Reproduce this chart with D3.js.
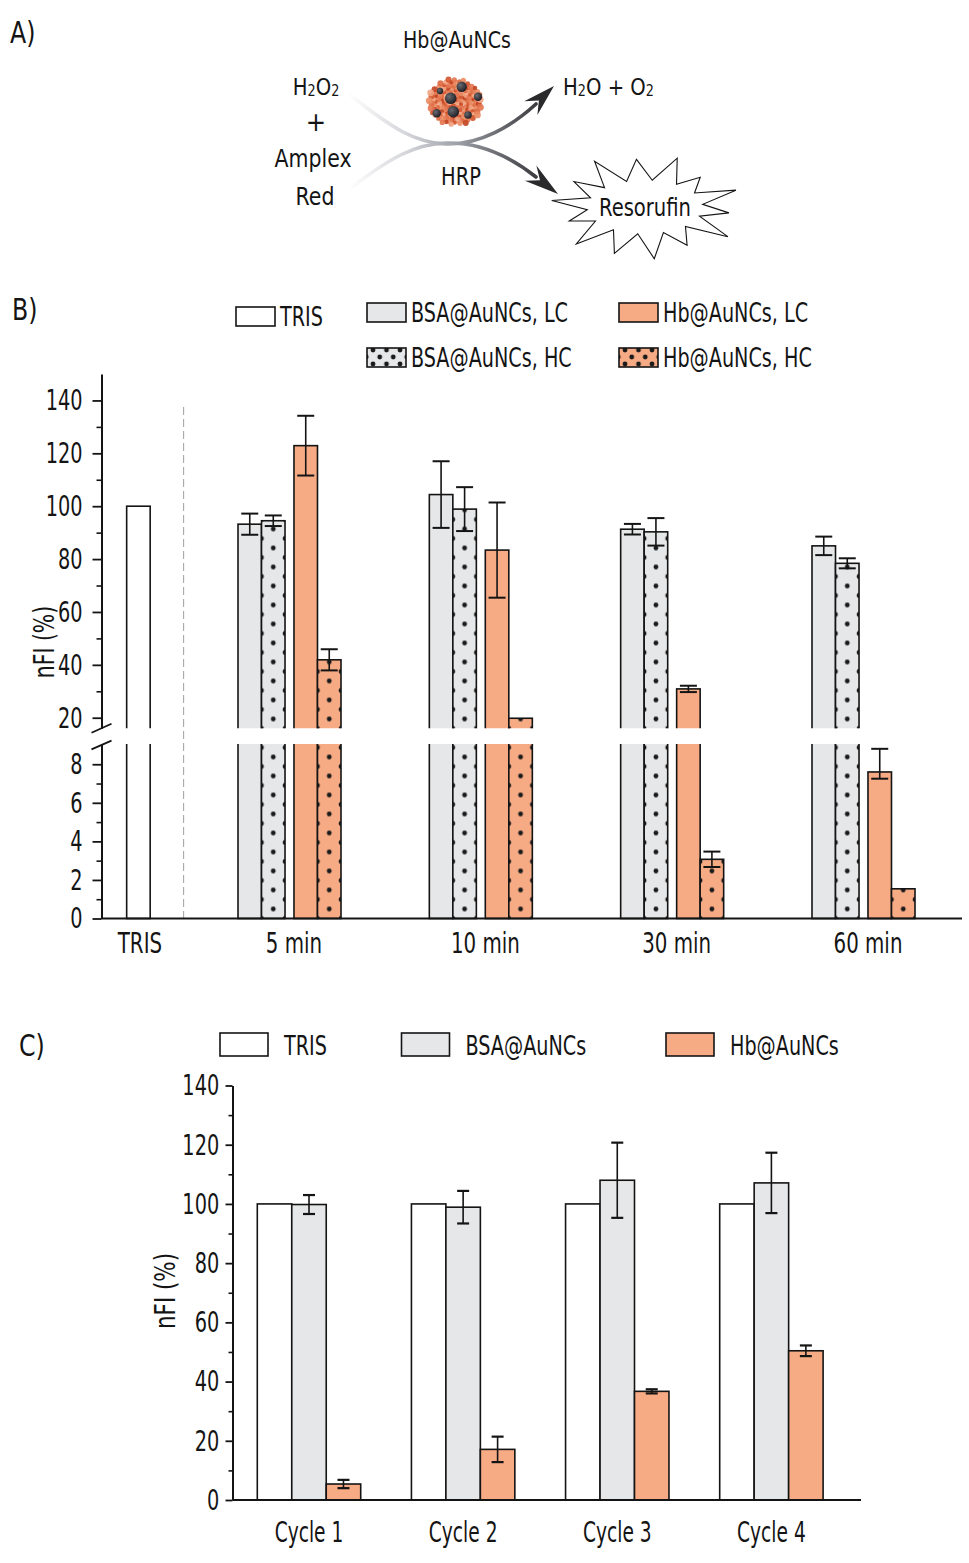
<!DOCTYPE html>
<html lang="en">
<head>
  <meta charset="UTF-8">
  <title>nFI bar charts</title>
  <style>
    body{margin:0;background:#fff;}
    svg{display:block;}
  </style>
</head>
<body>
<svg width="969" height="1563"></svg>

<script src="https://cdn.jsdelivr.net/npm/d3@7"></script>
<script>
  // ---------- data, panel B ----------
  var timeGroups = ['5 min', '10 min', '30 min', '60 min'];
  var trisLabel = 'TRIS';
  var trisValue = 100;
  var bsaLC = [93.2, 104.4, 91.3, 85.0];
  var bsaLCErr = [4.0, 12.6, 2.0, 3.5];
  var bsaHC = [94.5, 98.9, 90.3, 78.4];
  var bsaHCErr = [2.0, 8.3, 5.2, 1.9];
  var hbLC = [122.9, 83.4, 30.9, 7.6];
  var hbLCErrUp = [11.3, 18.0, 1.2, 1.2];
  var hbLCErrDown = [11.3, 18.0, 1.2, 0.35];
  var hbHC = [41.9, 19.8, 3.07, 1.54];
  var hbHCErr = [4.0, 0, 0.4, 0];
  var upperTicks = [20, 40, 60, 80, 100, 120, 140];
  var upperMinor = [30, 50, 70, 90, 110, 130];
  var lowerTicks = [0, 2, 4, 6, 8];
  var lowerMinor = [1, 3, 5, 7];

  // ---------- data, panel C ----------
  var cycles = ['Cycle 1', 'Cycle 2', 'Cycle 3', 'Cycle 4'];
  var cycTris = [100, 100, 100, 100];
  var cycBsa = [99.8, 98.9, 108.0, 107.1];
  var cycBsaErr = [3.2, 5.5, 12.7, 10.2];
  var cycHb = [5.4, 17.1, 36.7, 50.4];
  var cycHbErr = [1.4, 4.3, 0.7, 1.8];
  var cTicks = [0, 20, 40, 60, 80, 100, 120, 140];
  var cMinor = [10, 30, 50, 70, 90, 110, 130];

  var WHITE = '#ffffff', GRAY = '#e6e7e8', ORANGE = '#f7ab85', INK = '#141414';
  var FONT = "'Liberation Sans Narrow','DejaVu Sans Condensed',sans-serif";
  var SQ = 0.76;   // condensed look for labels
  var TSQ = 0.74;  // tick numbers

  var svg = d3.select('svg');
  var defs = svg.append('defs');

  function txt(parent, x, y, s, size, anchor, sx) {
    return parent.append('text')
      .attr('transform', 'translate(' + x + ',' + y + ') scale(' + (sx || SQ) + ',1)')
      .attr('text-anchor', anchor || 'start')
      .attr('font-size', size)
      .attr('font-family', FONT)
      .attr('fill', INK)
      .text(s);
  }

  // dotted fill, pattern aligned to the rect it fills
  var patN = 0;
  function dots(x, y, w, fill, h) {
    var id = 'dots' + (patN++);
    h = h || 19;
    var p = defs.append('pattern').attr('id', id).attr('patternUnits', 'userSpaceOnUse')
      .attr('x', x).attr('y', y).attr('width', w).attr('height', h);
    p.append('rect').attr('width', w).attr('height', h).attr('fill', fill);
    [[0, 0], [w, 0], [w / 2, h / 2], [0, h], [w, h]].forEach(function (c) {
      p.append('circle').attr('cx', c[0]).attr('cy', c[1]).attr('r', 2.4).attr('fill', '#1a1a1a');
    });
    return 'url(#' + id + ')';
  }

  function styleAxis(g, size) {
    g.attr('font-family', FONT).attr('font-size', size);
    g.select('.domain').attr('stroke', INK).attr('stroke-width', 2);
    g.selectAll('.tick line').attr('stroke', INK).attr('stroke-width', 1.8);
    g.selectAll('.tick text').attr('fill', INK).attr('transform', 'scale(' + TSQ + ',1)');
  }

  // ================= panel A : scheme =================
  var A = svg.append('g');
  txt(A, 10, 43, 'A)', 31, 'start', 0.85);
  txt(A, 457, 48, 'Hb@AuNCs', 23, 'middle', 0.92);

  function chem(x, y, parts, anchor) {
    var t = txt(A, x, y, '', 23, anchor, 0.95);
    parts.forEach(function (p) {
      if (p.sub) t.append('tspan').attr('font-size', 15).attr('dy', 1).text(p.s);
      else t.append('tspan').attr('dy', p.back ? -1 : 0).text(p.s);
    });
    return t;
  }
  chem(316, 95, [{s: 'H'}, {s: '2', sub: true}, {s: 'O', back: true}, {s: '2', sub: true}], 'middle');
  txt(A, 316, 131, '+', 27, 'middle', 1.0);
  txt(A, 313, 167, 'Amplex', 24, 'middle', 0.95);
  txt(A, 315, 205, 'Red', 24, 'middle', 0.95);
  chem(563, 95, [{s: 'H'}, {s: '2', sub: true}, {s: 'O + O', back: true}, {s: '2', sub: true}], 'start');
  txt(A, 461, 185, 'HRP', 24, 'middle', 0.9);

  var grad = defs.append('linearGradient').attr('id', 'flow').attr('gradientUnits', 'userSpaceOnUse')
    .attr('x1', 348).attr('y1', 0).attr('x2', 550).attr('y2', 0);
  [[0, '#ffffff'], [0.3, '#d3d4d9'], [0.55, '#9c9ea6'], [1, '#2b2b2e']].forEach(function (s) {
    grad.append('stop').attr('offset', s[0]).attr('stop-color', s[1]);
  });

  var up = d3.path();
  up.moveTo(350, 95);
  up.bezierCurveTo(392, 128, 415, 143, 446, 144);
  up.bezierCurveTo(480, 145, 512, 126, 536, 104);
  var dn = d3.path();
  dn.moveTo(352, 187);
  dn.bezierCurveTo(390, 158, 415, 144, 446, 143);
  dn.bezierCurveTo(482, 142, 512, 158, 536, 177);
  [up, dn].forEach(function (p) {
    A.append('path').attr('d', p.toString()).attr('fill', 'none')
      .attr('stroke', 'url(#flow)').attr('stroke-width', 3.6).attr('stroke-linecap', 'round');
  });

  function arrowHead(bx, by, tx, ty, wid) {
    var dx = tx - bx, dy = ty - by, L = Math.hypot(dx, dy), ux = dx / L, uy = dy / L, nx = -uy, ny = ux;
    var p = d3.path();
    p.moveTo(tx, ty);
    p.lineTo(bx + nx * wid / 2 - ux * 3, by + ny * wid / 2 - uy * 3);
    p.lineTo(bx + ux * L * 0.28, by + uy * L * 0.28);
    p.lineTo(bx - nx * wid / 2 - ux * 3, by - ny * wid / 2 - uy * 3);
    p.closePath();
    A.append('path').attr('d', p.toString()).attr('fill', '#2a2a2c');
  }
  arrowHead(533, 106, 554, 86, 19);
  arrowHead(533, 175, 558, 194, 19);

  // nano-cluster
  var cx0 = 455, cy0 = 102;
  var reds = ['#d2532b', '#ea8b63', '#c24420', '#f1a27f', '#dd6a40', '#e47550'];
  var bits = d3.range(140).map(function (i) {
    var r = 2.15 * Math.sqrt(i + 0.5), a = i * 2.39996;
    return {x: cx0 + r * Math.cos(a) * 1.06, y: cy0 + r * Math.sin(a) * 0.92, r: 2.2 + (i % 4) * 0.4, c: reds[i % reds.length]};
  });
  A.append('g').selectAll('circle').data(bits).enter().append('circle')
    .attr('cx', function (d) { return d.x; }).attr('cy', function (d) { return d.y; })
    .attr('r', function (d) { return d.r; }).attr('fill', function (d) { return d.c; }).attr('opacity', 0.9);
  var ball = defs.append('radialGradient').attr('id', 'ball').attr('cx', '35%').attr('cy', '35%').attr('r', '70%');
  ball.append('stop').attr('offset', 0).attr('stop-color', '#6a6a72');
  ball.append('stop').attr('offset', 1).attr('stop-color', '#1c1c22');
  var spheres = [[461.7, 86.7, 5.2], [450.7, 98.3, 5.8], [453.3, 111.7, 5.8], [436.7, 113.3, 4.2], [478, 96.7, 4.2], [468, 115, 3.8], [440, 91, 3.2]];
  A.append('g').selectAll('circle').data(spheres).enter().append('circle')
    .attr('cx', function (d) { return d[0]; }).attr('cy', function (d) { return d[1]; })
    .attr('r', function (d) { return d[2]; }).attr('fill', 'url(#ball)');

  // starburst
  var spikes = [1.0, 0.82, 1.02, 0.9, 1.05, 0.86, 1.0, 0.95, 1.02, 0.85, 1.0, 0.9, 1.03, 0.92];
  var burstPts = [];
  spikes.forEach(function (f, i) {
    var a0 = -Math.PI / 2 + 0.35 + i * 2 * Math.PI / spikes.length;
    var a1 = a0 + Math.PI / spikes.length;
    burstPts.push([645 + 94 * f * Math.cos(a0), 207 + 52 * f * Math.sin(a0)]);
    burstPts.push([645 + 58 * Math.cos(a1), 207 + 27 * Math.sin(a1)]);
  });
  A.append('path').attr('d', d3.line().curve(d3.curveLinearClosed)(burstPts))
    .attr('fill', WHITE).attr('stroke', INK).attr('stroke-width', 1.1);
  txt(A, 645, 216, 'Resorufin', 25, 'middle', 0.87);

  // ================= panel B =================
  var B = svg.append('g');
  txt(B, 12, 320, 'B)', 31, 'start', 0.85);

  var bAxisX = 101.5;
  var yUp = d3.scaleLinear().domain([16.0, 150]).range([728.3, 374]);
  var yLo = d3.scaleLinear().domain([0, 9.05]).range([918.5, 744]);
  var xTime = d3.scalePoint().domain(timeGroups).range([289, 863]);
  var trisX = xTime(timeGroups[0]) - 0.787 * xTime.step();
  var pair = d3.scaleBand().domain(['BSA', 'Hb']).range([-51, 52]).paddingInner(0.16);
  var conc = d3.scaleBand().domain(['LC', 'HC']).range([0, pair.bandwidth()]);
  var bw = conc.bandwidth();

  var seriesB = [
    {pair: 'BSA', conc: 'LC', fill: GRAY, dotted: false, v: bsaLC, up: bsaLCErr, dn: bsaLCErr},
    {pair: 'BSA', conc: 'HC', fill: GRAY, dotted: true, v: bsaHC, up: bsaHCErr, dn: bsaHCErr},
    {pair: 'Hb', conc: 'LC', fill: ORANGE, dotted: false, v: hbLC, up: hbLCErrUp, dn: hbLCErrDown},
    {pair: 'Hb', conc: 'HC', fill: ORANGE, dotted: true, v: hbHC, up: hbHCErr, dn: hbHCErr}
  ];
  var barsB = [{x: trisX - bw / 2, value: trisValue, fill: WHITE, dotted: false, up: 0, dn: 0}];
  timeGroups.forEach(function (t, i) {
    seriesB.forEach(function (s) {
      barsB.push({
        x: xTime(t) + pair(s.pair) + conc(s.conc), value: s.v[i], fill: s.fill,
        dotted: s.dotted, up: s.up[i], dn: s.dn[i]
      });
    });
  });
  barsB.forEach(function (d) {
    d.paint = d.dotted ? dots(d.x, yLo(0), bw, d.fill) : d.fill;
  });

  defs.append('clipPath').attr('id', 'clipUp').append('rect')
    .attr('x', bAxisX + 1).attr('y', 340).attr('width', 880).attr('height', yUp.range()[0] - 340);
  defs.append('clipPath').attr('id', 'clipLo').append('rect')
    .attr('x', bAxisX + 1).attr('y', yLo.range()[1]).attr('width', 880).attr('height', yLo(0) - yLo.range()[1] + 2);

  // dashed separator
  var sepX = trisX + 0.3 * (xTime(timeGroups[0]) - trisX);
  B.append('line').attr('x1', sepX).attr('x2', sepX)
    .attr('y1', yUp(137.5)).attr('y2', yLo(0)).attr('stroke', '#a8a8a8').attr('stroke-width', 1.1)
    .attr('stroke-dasharray', '8,4');

  [[yUp, 'clipUp'], [yLo, 'clipLo']].forEach(function (seg) {
    var y = seg[0];
    B.append('g').attr('clip-path', 'url(#' + seg[1] + ')')
      .selectAll('rect').data(barsB).enter().append('rect')
      .attr('x', function (d) { return d.x; })
      .attr('y', function (d) { return y(d.value); })
      .attr('width', bw)
      .attr('height', function (d) { return y(0) - y(d.value); })
      .attr('fill', function (d) { return d.paint; })
      .attr('stroke', INK).attr('stroke-width', 1.6);
  });

  // error bars
  var errG = B.append('g').attr('stroke', INK);
  barsB.filter(function (d) { return d.up > 0; }).forEach(function (d) {
    var y = d.value > 12 ? yUp : yLo, cx = d.x + bw / 2, cap = 8.5;
    var y1 = y(d.value + d.up), y2 = y(d.value - d.dn);
    errG.append('line').attr('x1', cx).attr('x2', cx).attr('y1', y1).attr('y2', y2).attr('stroke-width', 1.6);
    [y1, y2].forEach(function (yy) {
      errG.append('line').attr('x1', cx - cap).attr('x2', cx + cap).attr('y1', yy).attr('y2', yy).attr('stroke-width', 2);
    });
  });

  // axes
  var gUp = B.append('g').attr('transform', 'translate(' + bAxisX + ',0)')
    .call(d3.axisLeft(yUp).tickValues(upperTicks).tickSize(9).tickPadding(16.5).tickSizeOuter(0));
  styleAxis(gUp, 29);
  var gUpM = B.append('g').attr('transform', 'translate(' + bAxisX + ',0)')
    .call(d3.axisLeft(yUp).tickValues(upperMinor).tickSize(5).tickFormat(''));
  gUpM.select('.domain').remove();
  gUpM.selectAll('line').attr('stroke', INK).attr('stroke-width', 1.6);

  var gLo = B.append('g').attr('transform', 'translate(' + bAxisX + ',0)')
    .call(d3.axisLeft(yLo).tickValues(lowerTicks).tickSize(9).tickPadding(16.5).tickSizeOuter(0));
  styleAxis(gLo, 29);
  var gLoM = B.append('g').attr('transform', 'translate(' + bAxisX + ',0)')
    .call(d3.axisLeft(yLo).tickValues(lowerMinor).tickSize(5).tickFormat(''));
  gLoM.select('.domain').remove();
  gLoM.selectAll('line').attr('stroke', INK).attr('stroke-width', 1.6);

  // break marks
  [[yUp.range()[0], 4.5], [yLo.range()[1] + 1, 4.3]].forEach(function (b) {
    B.append('line').attr('x1', bAxisX - 10).attr('y1', b[0] + b[1]).attr('x2', bAxisX + 10).attr('y2', b[0] - b[1])
      .attr('stroke', INK).attr('stroke-width', 1.8);
  });

  // x axis line and labels
  B.append('line').attr('x1', bAxisX).attr('x2', 962).attr('y1', yLo(0)).attr('y2', yLo(0))
    .attr('stroke', INK).attr('stroke-width', 2.2);
  txt(B, trisX + 1.5, 953, trisLabel, 29, 'middle');
  timeGroups.forEach(function (t) { txt(B, xTime(t) + 5, 953, t, 29, 'middle'); });

  txt(B, 0, 0, 'nFI (%)', 29, 'middle')
    .attr('transform', 'translate(44,642) rotate(-90) scale(0.78,1)').attr('dy', '0.35em');

  // legend B
  var legB = [
    {label: 'TRIS', fill: WHITE, dotted: false, x: 236, y: 307},
    {label: 'BSA@AuNCs, LC', fill: GRAY, dotted: false, x: 367, y: 303},
    {label: 'Hb@AuNCs, LC', fill: ORANGE, dotted: false, x: 619, y: 303},
    {label: 'BSA@AuNCs, HC', fill: GRAY, dotted: true, x: 367, y: 348},
    {label: 'Hb@AuNCs, HC', fill: ORANGE, dotted: true, x: 619, y: 348}
  ];
  legB.forEach(function (d) {
    var w = 39, h = 19;
    B.append('rect').attr('x', d.x).attr('y', d.y).attr('width', w).attr('height', h)
      .attr('fill', d.dotted ? dots(d.x + 6, d.y + 2, 13.5, d.fill, 14) : d.fill)
      .attr('stroke', INK).attr('stroke-width', 1.6);
    txt(B, d.x + w + 5, d.y + h, d.label, 27, 'start', 0.79);
  });

  // ================= panel C =================
  var C = svg.append('g');
  txt(C, 19, 1056, 'C)', 31, 'start', 0.85);

  var cAxisX = 232.5;
  var yC = d3.scaleLinear().domain([0, 140]).range([1500, 1085.5]);
  var xC = d3.scalePoint().domain(cycles).range([309, 771.4]);
  var inC = d3.scaleBand().domain(['TRIS', 'BSA', 'Hb']).range([-51.7, 51.7]);
  var cbw = inC.bandwidth();

  var seriesC = [
    {key: 'TRIS', fill: WHITE, v: cycTris, err: null},
    {key: 'BSA', fill: GRAY, v: cycBsa, err: cycBsaErr},
    {key: 'Hb', fill: ORANGE, v: cycHb, err: cycHbErr}
  ];
  var barsC = [];
  cycles.forEach(function (c, i) {
    seriesC.forEach(function (s) {
      barsC.push({x: xC(c) + inC(s.key), value: s.v[i], fill: s.fill, err: s.err ? s.err[i] : 0});
    });
  });
  C.append('g').selectAll('rect').data(barsC).enter().append('rect')
    .attr('x', function (d) { return d.x; })
    .attr('y', function (d) { return yC(d.value); })
    .attr('width', cbw)
    .attr('height', function (d) { return yC(0) - yC(d.value); })
    .attr('fill', function (d) { return d.fill; })
    .attr('stroke', INK).attr('stroke-width', 1.6);

  var errC = C.append('g').attr('stroke', INK);
  barsC.filter(function (d) { return d.err > 0; }).forEach(function (d) {
    var cx = d.x + cbw / 2, cap = 6;
    var y1 = yC(d.value + d.err), y2 = yC(d.value - d.err);
    errC.append('line').attr('x1', cx).attr('x2', cx).attr('y1', y1).attr('y2', y2).attr('stroke-width', 1.6);
    [y1, y2].forEach(function (yy) {
      errC.append('line').attr('x1', cx - cap).attr('x2', cx + cap).attr('y1', yy).attr('y2', yy).attr('stroke-width', 2.2);
    });
  });

  var gC = C.append('g').attr('transform', 'translate(' + cAxisX + ',0)')
    .call(d3.axisLeft(yC).tickValues(cTicks).tickSize(7).tickPadding(11).tickSizeOuter(0));
  styleAxis(gC, 29);
  var gCM = C.append('g').attr('transform', 'translate(' + cAxisX + ',0)')
    .call(d3.axisLeft(yC).tickValues(cMinor).tickSize(4).tickFormat(''));
  gCM.select('.domain').remove();
  gCM.selectAll('line').attr('stroke', INK).attr('stroke-width', 1.6);

  C.append('line').attr('x1', cAxisX).attr('x2', 861).attr('y1', yC(0)).attr('y2', yC(0))
    .attr('stroke', INK).attr('stroke-width', 2.2);
  cycles.forEach(function (c) { txt(C, xC(c), 1542, c, 28, 'middle', 0.74); });

  txt(C, 0, 0, 'nFI (%)', 29, 'middle')
    .attr('transform', 'translate(165,1291) rotate(-90) scale(0.82,1)').attr('dy', '0.35em');

  var legC = [
    {label: 'TRIS', fill: WHITE, x: 220},
    {label: 'BSA@AuNCs', fill: GRAY, x: 401.5},
    {label: 'Hb@AuNCs', fill: ORANGE, x: 666}
  ];
  legC.forEach(function (d) {
    C.append('rect').attr('x', d.x).attr('y', 1033).attr('width', 48).attr('height', 23)
      .attr('fill', d.fill).attr('stroke', INK).attr('stroke-width', 1.6);
    txt(C, d.x + 64, 1055, d.label, 27, 'start', 0.79);
  });
</script>
</body>
</html>
